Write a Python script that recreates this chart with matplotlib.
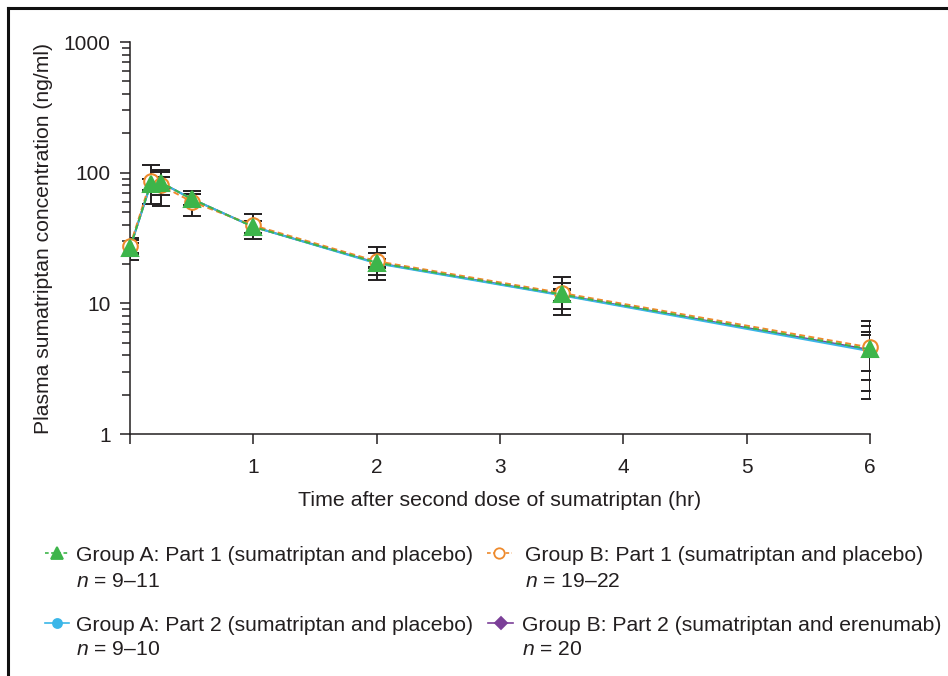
import matplotlib
matplotlib.use("Agg")
import matplotlib.pyplot as plt
from matplotlib.lines import Line2D
from matplotlib.ticker import LogLocator, FixedLocator, NullFormatter

plt.rcParams['font.family'] = ['Liberation Sans', 'DejaVu Sans']
plt.rcParams['mathtext.fontset'] = 'custom'
plt.rcParams['mathtext.it'] = 'Liberation Sans:italic'
plt.rcParams['mathtext.rm'] = 'Liberation Sans'

# ---------------- data ----------------
times = [0, 0.167, 0.25, 0.5, 1, 2, 3.5, 6]

a1_mean = [26.5, 82, 84, 63, 38.5, 20.5, 11.7, 4.45]
a1_sd = [5, 8, 17, 6, 4, 3.9, 2.7, 2.3]

b1_mean = [27.5, 86, 80, 60, 39.5, 21, 12, 4.6]
b1_sd = [3.2, 28, 24, 13, 8.5, 5.8, 3.8, 2.76]

a2_mean = [26.5, 81, 84, 63, 38.5, 20.2, 11.5, 4.3]
a2_sd = [2.5, 8, 8, 6, 4, 1.5, 1.2, 1.7]

b2_mean = [26.5, 82, 84, 63, 38.5, 20.4, 11.6, 4.4]
b2_sd = [2.5, 8, 8, 6, 4, 1.5, 1.2, 1.35]

labels = ["Group A: Part 1 (sumatriptan and placebo)",
          "Group B: Part 1 (sumatriptan and placebo)",
          "Group A: Part 2 (sumatriptan and placebo)",
          "Group B: Part 2 (sumatriptan and erenumab)"]
n_labels = ["9\u201311", "19\u201322", "9\u201310", "20"]

x_ticks = [0, 1, 2, 3, 4, 5, 6]
x_ticklabels = ["", "1", "2", "3", "4", "5", "6"]
y_ticks = [1, 10, 100, 1000]
y_ticklabels = ["1", "10", "100", "1000"]

# ---------------- styles ----------------
GREEN = '#3db54a'
ORANGE = '#ee8a2c'
CYAN = '#3ab6e8'
PURPLE = '#7b3f98'
TXT = '#231f20'

W, H = 948, 676
fig = plt.figure(figsize=(W / 100, H / 100), dpi=100)


def fx(px):
    return px / W


def fy(py):
    return 1 - py / H


ax = fig.add_axes([fx(130), fy(434), fx(870) - fx(130), fy(42) - fy(434)])

series = [
    # mean, sd, color, ls, marker, mfc, ms, z
    (b2_mean, b2_sd, PURPLE, '-', 'D', PURPLE, 6, 2),
    (a2_mean, a2_sd, CYAN, '-', 'o', CYAN, 6.5, 3),
    (b1_mean, b1_sd, ORANGE, (0, (3, 1.8)), 'o', 'white', 10.5, 4),
    (a1_mean, a1_sd, GREEN, (0, (3, 1.8)), '^', GREEN, 11, 5),
]

for mean, sd, col, ls, mk, mfc, ms, z in series:
    ax.errorbar(times, mean, yerr=sd, fmt='none', ecolor='#231f20',
                elinewidth=1.4, capsize=6.5, capthick=1.4, zorder=1.5)

for mean, sd, col, ls, mk, mfc, ms, z in series:
    ax.plot(times, mean, color=col, linestyle=ls, linewidth=1.4,
            marker=mk, markersize=ms, markerfacecolor=mfc,
            markeredgecolor=col, markeredgewidth=1.5, zorder=z,
            clip_on=False)

ax.set_yscale('log')
ax.set_xlim(0, 6)
ax.set_ylim(1, 1000)
ax.set_xticks(x_ticks)
ax.set_xticklabels(x_ticklabels)
ax.yaxis.set_major_locator(FixedLocator(y_ticks))
ax.set_yticklabels(y_ticklabels)
ax.yaxis.set_minor_locator(LogLocator(base=10, subs=[2, 3, 4, 5, 6, 7, 8, 9]))
ax.yaxis.set_minor_formatter(NullFormatter())

for s in ['top', 'right']:
    ax.spines[s].set_visible(False)
for s in ['left', 'bottom']:
    ax.spines[s].set_linewidth(1.1)
    ax.spines[s].set_color(TXT)

ax.tick_params(axis='both', which='major', direction='out', length=7,
               width=1.1, color=TXT, labelsize=15, labelcolor=TXT)
ax.tick_params(axis='y', which='minor', direction='out', length=6,
               width=1.1, color=TXT)
ax.tick_params(axis='x', pad=10.5)
ax.tick_params(axis='y', pad=7)

ax.set_xlabel("Time after second dose of sumatriptan (hr)", fontsize=15.4,
              color=TXT, labelpad=10)
ax.set_ylabel("Plasma sumatriptan concentration (ng/ml)", fontsize=15.2,
              color=TXT, labelpad=8)

# ---------------- legend (manual) ----------------
legend_spec = [
    # handle x0, x1, marker x, line y, text x, baseline, n baseline
    (45, 69, 57, 553, 76, 561, 587),
    (487, 512, 499, 553, 525, 561, 587),
    (45, 69, 57, 623, 76, 631, 655),
    (488, 513, 501, 623, 522, 631, 655),
]
legend_style = [
    (GREEN, (0, (2.2, 1.5)), '^', GREEN, 8),
    (ORANGE, (0, (2.2, 1.5)), 'o', 'white', 7.5),
    (CYAN, '-', 'o', CYAN, 6.5),
    (PURPLE, '-', 'D', PURPLE, 6),
]
for i in range(4):
    x0, x1, mx, ly, tx, tb, nb = legend_spec[i]
    col, ls, mk, mfc, ms = legend_style[i]
    fig.add_artist(Line2D([fx(x0), fx(x1)], [fy(ly), fy(ly)],
                          transform=fig.transFigure, color=col,
                          linestyle=ls, linewidth=1.2))
    fig.add_artist(Line2D([fx(mx)], [fy(ly)], transform=fig.transFigure,
                          marker=mk, markersize=ms, markerfacecolor=mfc,
                          markeredgecolor=col, markeredgewidth=1.3,
                          linestyle='none'))
    fig.text(fx(tx), fy(tb), labels[i], fontsize=15.2, color=TXT,
             ha='left', va='baseline')
    fig.text(fx(tx), fy(nb), r"$n$ = " + n_labels[i], fontsize=15.2,
             color=TXT, ha='left', va='baseline')

# ---------------- frame ----------------
fig.add_artist(Line2D([fx(8), 1], [fy(8), fy(8)], transform=fig.transFigure,
                      color='#111111', linewidth=2.2))
fig.add_artist(Line2D([fx(8), fx(8)], [0, fy(8)], transform=fig.transFigure,
                      color='#111111', linewidth=2.2))

fig.savefig("out.png", dpi=100)
